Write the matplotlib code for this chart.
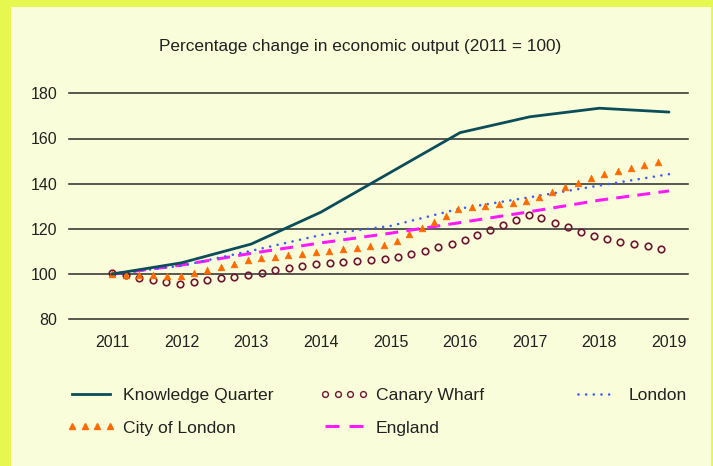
import numpy as np
import matplotlib
matplotlib.use("Agg")
import matplotlib.pyplot as plt
import matplotlib.colors as mcolors
from matplotlib.lines import Line2D
from matplotlib.patches import Rectangle
from matplotlib.patheffects import AbstractPathEffect
from matplotlib.markers import MarkerStyle
from matplotlib.path import Path
from matplotlib.transforms import Affine2D, IdentityTransform
from matplotlib.legend_handler import HandlerLine2D

plt.rcParams["font.family"] = ["Liberation Sans", "DejaVu Sans"]
plt.rcParams["lines.scale_dashes"] = False

# data, index 2011 = 100
years = [2011, 2012, 2013, 2014, 2015, 2016, 2017, 2018, 2019]
knowledge_quarter = [100, 105, 113.3, 127.4, 145, 162.6, 169.6, 173.4, 171.7]
canary_wharf = [100.3, 95.6, 100, 104.7, 106.7, 114.2, 126.5, 116, 110.7]
city_of_london = [100, 99, 106.5, 110, 113.3, 129, 132.5, 144, 150.5]
london = [100, 103.7, 110.3, 117.3, 121.3, 129, 134, 139.2, 144.2]
england = [100, 104, 109.2, 113.8, 118.1, 122.8, 127.6, 132.7, 136.8]
yticks = [80, 100, 120, 140, 160, 180]

FRAME = "#e6f750"
PANEL = "#fafdd9"
TEXT = "#222222"
C_KQ = "#0b4d5a"
C_CW = "#6e1634"
C_CITY = "#ff6a00"
C_LON = "#3a5cff"
C_ENG = "#ff1aff"


class MarkerStroke(AbstractPathEffect):
    """strokes a line with markers at equal distances along it"""

    def __init__(self, marker, size, spacing, color, filled=False, lw=1.1):
        super().__init__()
        self.marker = marker
        self.size = size
        self.spacing = spacing
        self.color = color
        self.filled = filled
        self.lw = lw

    def draw_path(self, renderer, gc, tpath, affine, rgbFace=None):
        verts = affine.transform(tpath.vertices)
        seg = np.hypot(*np.diff(verts, axis=0).T)
        cum = np.concatenate([[0], np.cumsum(seg)])
        step = renderer.points_to_pixels(self.spacing)
        dist = np.arange(0, cum[-1] + 1e-6, step)
        pts = np.column_stack([np.interp(dist, cum, verts[:, 0]),
                               np.interp(dist, cum, verts[:, 1])])
        ms = MarkerStyle(self.marker)
        mtrans = ms.get_transform() + Affine2D().scale(renderer.points_to_pixels(self.size))
        gc0 = renderer.new_gc()
        gc0.copy_properties(gc)
        gc0.set_foreground(self.color)
        gc0.set_linewidth(self.lw)
        face = mcolors.to_rgba(self.color) if self.filled else None
        renderer.draw_markers(gc0, ms.get_path(), mtrans, Path(pts), IdentityTransform(), face)
        gc0.restore()


W, H = 713, 466
fig = plt.figure(figsize=(W / 100, H / 100), dpi=100)
fig.patch.set_facecolor(FRAME)
fig.add_artist(Rectangle((11 / W, 0), 700 / W, 459 / H, transform=fig.transFigure,
                         facecolor=PANEL, edgecolor="none", zorder=-5))

ax = fig.add_axes([69 / W, 1 - 319.3 / H, (688 - 69) / W, (319.3 - 93.3) / H])
ax.set_facecolor("none")

ax.plot(years, england, color=C_ENG, lw=2.2, ls=(0, (9.4, 5.9)), dash_capstyle="butt", zorder=2)
ax.plot(years, london, color=C_LON, lw=1.9, ls=(0, (0.01, 5.5)), dash_capstyle="round", zorder=3)
ax.plot(years, canary_wharf, color=C_CW, zorder=4,
        path_effects=[MarkerStroke("o", 4.7, 9.9, C_CW, filled=False, lw=1.2)])
ax.plot(years, city_of_london, color=C_CITY, zorder=5,
        path_effects=[MarkerStroke("^", 4.8, 9.9, C_CITY, filled=True, lw=0.5)])
ax.plot(years, knowledge_quarter, color=C_KQ, lw=2.0, solid_capstyle="round", zorder=6)

ax.set_xlim(2011 - 43 / 69.625, 2019 + 19 / 69.625)
ax.set_ylim(80, 180)
ax.set_xticks(years)
ax.set_xticklabels([str(y) for y in years])
ax.set_yticks(yticks)
ax.grid(axis="y", color="#2a2a2a", lw=1.1)
ax.grid(axis="x", visible=False)
for gl in ax.get_ygridlines():
    gl.set_clip_on(False)
ax.set_axisbelow(True)
for s in ax.spines.values():
    s.set_visible(False)
ax.tick_params(axis="both", length=0, labelsize=11.5, colors=TEXT)
ax.tick_params(axis="x", pad=11)
ax.tick_params(axis="y", pad=8.5)

fig.text(360 / W, 1 - 47 / H, "Percentage change in economic output (2011 = 100)",
         ha="center", va="center", fontsize=12.4, color=TEXT)

# legend, three fixed columns
h_kq = Line2D([], [], color=C_KQ, lw=2.0)
h_city = Line2D([], [], ls="none", marker="^", ms=5, color=C_CITY)
h_cw = Line2D([], [], ls="none", marker="o", ms=4.2, mfc="none", mec=C_CW, mew=1.0)
h_eng = Line2D([], [], color=C_ENG, lw=2.2, ls=(0, (10.1, 7.2)))
h_lon = Line2D([], [], color=C_LON, lw=1.9, ls=(0, (0.01, 5.5)), dash_capstyle="round")

leg_kw = dict(frameon=False, fontsize=12.6, borderpad=0, borderaxespad=0, numpoints=4,
              handlelength=2.17, handletextpad=0.75, labelspacing=1.0, labelcolor=TEXT,
              handler_map={Line2D: HandlerLine2D(marker_pad=0)})
fig.legend([h_kq, h_city], ["Knowledge Quarter", "City of London"], loc="center left",
           bbox_to_anchor=(72 / W, 1 - 411.5 / H), **leg_kw)
fig.legend([h_cw, h_eng], ["Canary Wharf", "England"], loc="center left",
           bbox_to_anchor=(325 / W, 1 - 411.5 / H), **leg_kw)
fig.legend([h_lon], ["London"], loc="center left",
           bbox_to_anchor=(578 / W, 1 - 395 / H), **leg_kw)

fig.savefig("out.png", dpi=100, facecolor=fig.get_facecolor())
